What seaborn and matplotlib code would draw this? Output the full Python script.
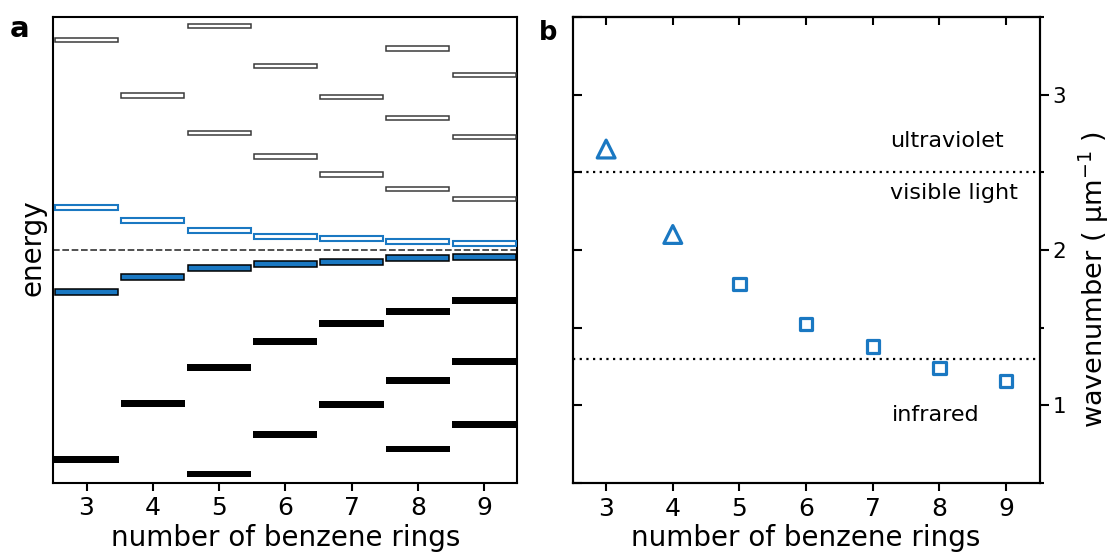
import numpy as np
import pandas as pd
import matplotlib
matplotlib.use("Agg")
import matplotlib.pyplot as plt
import seaborn as sns

# ---------------- data ----------------
rings = [3, 4, 5, 6, 7, 8, 9]
# panel a: orbital energies (arbitrary units, midgap = 0)
lumo = [0.85, 0.59, 0.38, 0.27, 0.22, 0.17, 0.13]
homo = [-0.85, -0.55, -0.37, -0.28, -0.24, -0.17, -0.15]
upper_levels = [[4.19], [3.08], [4.47, 2.33], [3.67, 1.86], [3.05, 1.50],
                [4.02, 2.63, 1.21], [3.49, 2.25, 1.01]]
lower_levels = [[-4.19], [-3.07], [-2.35, -4.48], [-1.83, -3.69], [-1.48, -3.09],
                [-1.24, -2.61, -3.98], [-1.01, -2.23, -3.49]]
# panel b: wavenumber of lowest transition (um^-1)
wavenumber = [2.65, 2.10, 1.78, 1.525, 1.38, 1.24, 1.155]
band_type = ["triangle", "triangle", "square", "square", "square", "square", "square"]
uv_limit = 2.5
ir_limit = 1.3
region_labels = ["ultraviolet", "visible light", "infrared"]

BLUE = "#1a78c2"

sns.set_theme(style="ticks")
plt.rcParams["font.family"] = ["DejaVu Sans"]
plt.rcParams["axes.linewidth"] = 1.5
plt.rcParams["text.color"] = "black"
plt.rcParams["axes.labelcolor"] = "black"
plt.rcParams["xtick.color"] = "black"
plt.rcParams["ytick.color"] = "black"
plt.rcParams["axes.edgecolor"] = "black"
plt.rcParams["mathtext.fontset"] = "dejavusans"

fig = plt.figure(figsize=(11.14, 5.54), dpi=100)
W, H = 1114, 554

def axrect(l, r, t, b):
    return [l / W, (H - b) / H, (r - l) / W, (b - t) / H]

TL = 6.0  # tick length in points

# ---------------- panel a ----------------
ax = fig.add_axes(axrect(53.4, 517.2, 17, 482.5))
up_x = [n for n, lv in zip(rings, upper_levels) for _ in lv]
up_e = [e for lv in upper_levels for e in lv]
lo_x = [n for n, lv in zip(rings, lower_levels) for _ in lv]
lo_e = [e for lv in lower_levels for e in lv]

h_open = 0.092
h_fill = 0.134
ax.bar(up_x, h_open, bottom=np.array(up_e) - h_open / 2, width=0.95,
       facecolor="white", edgecolor="#3a3a3a", linewidth=1.1, zorder=3)
ax.bar(rings, h_open, bottom=np.array(lumo) - h_open / 2, width=0.95,
       facecolor="white", edgecolor=BLUE, linewidth=1.5, zorder=3)
ax.bar(rings, h_open + 0.02, bottom=np.array(homo) - (h_open + 0.02) / 2, width=0.95,
       facecolor=BLUE, edgecolor="black", linewidth=1.1, zorder=3)
ax.bar(lo_x, h_fill, bottom=np.array(lo_e) - h_fill / 2, width=0.97,
       facecolor="black", edgecolor="none", linewidth=0, zorder=3)
ax.axhline(0, color="#333333", lw=1.2, ls=(0, (4, 1.6)), zorder=2)

ax.set_xlim(2.5, 9.5)
ax.set_ylim(-4.65, 4.65)
ax.set_xticks(rings)
ax.set_yticks([])
ax.tick_params(axis="x", direction="out", length=TL, width=1.5, labelsize=18, pad=4)
for s in ax.spines.values():
    s.set_visible(True)
ax.set_xlabel("number of benzene rings", fontsize=20)
ax.xaxis.set_label_coords(0.5, (482.5 - 546) / 465.5)
ax.xaxis.label.set_va("baseline")
ax.set_ylabel("")
fig.text(32 / W, (H - 248) / H, "energy", rotation=90, ha="center", va="center",
         fontsize=20)

# ---------------- panel b ----------------
bx = fig.add_axes(axrect(572.8, 1039.5, 17, 483))
dfb = pd.DataFrame({"rings": rings, "wavenumber": wavenumber, "type": band_type})
tri = dfb[dfb["type"] == "triangle"]
sq = dfb[dfb["type"] == "square"]
sns.scatterplot(data=tri, x="rings", y="wavenumber", marker="^", s=165,
                facecolors="none", edgecolors=BLUE, linewidth=2.3, ax=bx, zorder=4,
                legend=False)
sns.scatterplot(data=sq, x="rings", y="wavenumber", marker="s", s=80,
                facecolors="none", edgecolors=BLUE, linewidth=2.3, ax=bx, zorder=4,
                legend=False)
bx.axhline(uv_limit, color="black", lw=1.6, ls=(0, (1, 2)), zorder=2)
bx.axhline(ir_limit, color="black", lw=1.6, ls=(0, (1, 2)), zorder=2)

bx.set_xlim(2.5, 9.5)
bx.set_ylim(0.5, 3.5)
bx.set_xticks(rings)
bx.set_yticks(np.arange(0.5, 3.51, 0.5))
bx.tick_params(axis="x", which="both", bottom=True, top=False, direction="out",
               length=TL, width=1.5, labelsize=18, pad=4)
bx.tick_params(axis="y", which="both", left=True, right=False, direction="in",
               length=6.5, width=1.5, labelleft=False)
bx.set_xlabel("number of benzene rings", fontsize=20)
bx.xaxis.set_label_coords(0.5, (483 - 546) / 466)
bx.xaxis.label.set_va("baseline")
bx.set_ylabel("")
for s in bx.spines.values():
    s.set_visible(True)

# top ticks pointing inward
tx = bx.secondary_xaxis("top")
tx.set_xticks(rings)
tx.tick_params(axis="x", direction="in", length=5.5, width=1.5, labeltop=False)

# right axis with labels
rx = bx.twinx()
rx.set_ylim(0.5, 3.5)
rx.set_yticks([1, 2, 3])
rx.set_yticks([0.5, 1.5, 2.5, 3.5], minor=True)
rx.tick_params(axis="y", which="major", direction="out", length=6.2, width=1.5,
               labelsize=15.5, pad=3)
rx.tick_params(axis="y", which="minor", direction="out", length=3.2, width=1.5)
rx.grid(False)

bx.text(7.26, 2.70, region_labels[0], fontsize=16, ha="left", va="center")
bx.text(7.26, 2.37, region_labels[1], fontsize=16, ha="left", va="center")
bx.text(7.29, 0.94, region_labels[2], fontsize=16, ha="left", va="center")

fig.text(1094 / W, (H - 280) / H,
         "wavenumber ( \u00b5m$^{-1}$ )", rotation=90,
         ha="center", va="center", fontsize=19.5)

fig.text(10 / W, (H - 37) / H, "a", fontsize=21, fontweight="bold", ha="left",
         va="baseline")
fig.text(539 / W, (H - 40) / H, "b", fontsize=18.5, fontweight="bold", ha="left",
         va="baseline")

fig.savefig("out.png", dpi=100)
